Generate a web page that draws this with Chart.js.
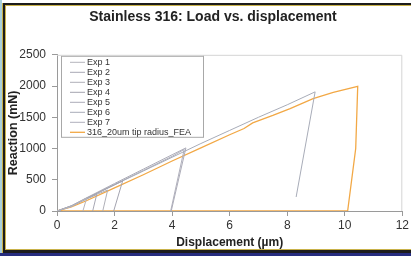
<!DOCTYPE html>
<html>
<head>
<meta charset="utf-8">
<script src="https://cdn.jsdelivr.net/npm/chart.js@4/dist/chart.umd.min.js"></script>
<style>
  html, body { margin: 0; padding: 0; background: #fff; }
  #wrap { position: relative; width: 411px; height: 256px; overflow: hidden; }
  #wrap canvas { position: absolute; left: 0; top: 0; }
  .fr { position: absolute; pointer-events: none; }
</style>
</head>
<body>
<div id="wrap">
  <canvas id="chart" width="411" height="256"></canvas>
  <!-- frame around the slide -->
  <div class="fr" style="left:0;top:3px;width:411px;height:2px;background:#1c1c1c"></div>
  <div class="fr" style="left:5px;top:5px;width:406px;height:1px;background:#c9b24a"></div>
  <div class="fr" style="left:0;top:0;width:2px;height:256px;background:#a9cfdc"></div>
  <div class="fr" style="left:2px;top:3px;width:1px;height:253px;background:#c9b24a"></div>
  <div class="fr" style="left:3px;top:3px;width:2px;height:250px;background:#1c1c1c"></div>
  <div class="fr" style="left:5px;top:5px;width:1px;height:245px;background:#c9b24a"></div>
  <div class="fr" style="left:5px;top:249px;width:406px;height:1px;background:#c9b24a"></div>
  <div class="fr" style="left:3px;top:250px;width:408px;height:3px;background:#1c1c1c"></div>
  <div class="fr" style="left:0;top:253px;width:411px;height:3px;background:#262c7e"></div>
</div>
<script>
// displacement (um) / reaction (mN)
const exp1X = [0, 0.5, 1.03, 0.9];
const exp1Y = [0, 70, 205, 0];
const exp2X = [0, 0.5, 1.0, 1.38, 1.24];
const exp2Y = [0, 75, 185, 265, 0];
const exp3X = [0, 0.5, 1.0, 1.4, 1.76, 1.59];
const exp3Y = [0, 75, 190, 270, 335, 0];
const exp4X = [0, 0.5, 1.0, 1.6, 2.28, 1.97];
const exp4Y = [0, 80, 195, 330, 480, 0];
const exp5X = [0, 0.5, 1, 2, 3, 4, 4.48, 3.97];
const exp5Y = [0, 85, 205, 440, 670, 900, 1010, 0];
const exp6X = [0, 0.5, 1, 2, 3, 4, 5, 6, 7, 8, 8.97, 8.31];
const exp6Y = [0, 80, 200, 420, 640, 860, 1080, 1290, 1500, 1700, 1907, 224];
const exp7X = [0, 0.5, 1, 2, 3, 4, 4.42, 3.95];
const exp7Y = [0, 80, 195, 425, 650, 875, 985, 0];
const feaX = [0, 0.5, 1, 2, 3, 4, 5, 6, 6.5, 6.8, 7.5, 8.1, 8.9, 9.6, 10.45, 10.38, 10.1, 0];
const feaY = [0, 65, 160, 370, 580, 800, 1010, 1220, 1320, 1410, 1530, 1640, 1800, 1900, 1995, 1000, 0, 0];

const xTicks = [0, 2, 4, 6, 8, 10, 12];
const yTicks = [0, 500, 1000, 1500, 2000, 2500];

const font = "'Liberation Sans', Arial, sans-serif";

const pts = (xs, ys) => xs.map((x, i) => ({ x, y: ys[i] }));

const grey = (label, xs, ys, color) => ({
    label,
    data: pts(xs, ys),
    borderColor: color,
    borderWidth: 1,
    pointRadius: 0,
    tension: 0,
    showLine: true,
});

// light frame on top/right of the plot area
const plotBox = {
    id: "plotBox",
    afterLayout(chart) {
        // the original title is centred a bit right of the canvas middle
        if (chart.titleBlock) chart.titleBlock.left = 22;
    },
    beforeDatasetsDraw(chart) {
        const { ctx, chartArea: a } = chart;
        ctx.save();
        ctx.strokeStyle = "#d4d4d4";
        ctx.lineWidth = 1;
        ctx.beginPath();
        ctx.moveTo(a.left, a.top + 0.5);
        ctx.lineTo(a.right - 0.5, a.top + 0.5);
        ctx.lineTo(a.right - 0.5, a.bottom);
        ctx.stroke();
        ctx.restore();
    },
};

// boxed legend inside the plot, top left
const boxLegend = {
    id: "boxLegend",
    afterDatasetsDraw(chart) {
        const { ctx, chartArea: a } = chart;
        const left = a.left + 4, top = a.top + 1;
        const w = 142, h = 81, row = 10;
        ctx.save();
        ctx.fillStyle = "#fff";
        ctx.fillRect(left, top, w, h);
        ctx.strokeStyle = "#a8a8a8";
        ctx.lineWidth = 1;
        ctx.strokeRect(left + 0.5, top + 0.5, w, h);
        ctx.font = "9px " + font;
        ctx.textBaseline = "middle";
        chart.data.datasets.forEach((ds, i) => {
            const y = top + 6 + i * row;
            ctx.strokeStyle = ds.borderColor;
            ctx.lineWidth = ds.borderWidth;
            ctx.beginPath();
            ctx.moveTo(left + 9, y + 0.5);
            ctx.lineTo(left + 24, y + 0.5);
            ctx.stroke();
            ctx.fillStyle = "#333";
            ctx.fillText(ds.label, left + 26, y + 0.5);
        });
        ctx.restore();
    },
};

new Chart(document.getElementById("chart"), {
    type: "scatter",
    data: {
        datasets: [
            grey("Exp 1", exp1X, exp1Y, "#b4b4bc"),
            grey("Exp 2", exp2X, exp2Y, "#a8a8b4"),
            grey("Exp 3", exp3X, exp3Y, "#b0b0b8"),
            grey("Exp 4", exp4X, exp4Y, "#a4a4b0"),
            grey("Exp 5", exp5X, exp5Y, "#acacb8"),
            grey("Exp 6", exp6X, exp6Y, "#a8acb8"),
            grey("Exp 7", exp7X, exp7Y, "#b0b0bc"),
            {
                label: "316_20um tip radius_FEA",
                data: pts(feaX, feaY),
                borderColor: "#f2a845",
                borderWidth: 1.3,
                pointRadius: 0,
                tension: 0,
                showLine: true,
            },
        ],
    },
    options: {
        responsive: false,
        animation: false,
        layout: { padding: { left: 6, right: 7, top: 0, bottom: 6 } },
        plugins: {
            legend: { display: false },
            tooltip: { enabled: false },
            title: {
                display: true,
                text: "Stainless 316: Load vs. displacement",
                font: { family: font, size: 14, weight: "bold" },
                color: "#222",
                padding: { top: 9, bottom: 29 },
            },
        },
        scales: {
            x: {
                type: "linear",
                min: 0,
                max: 12,
                afterBuildTicks: (s) => { s.ticks = xTicks.map((v) => ({ value: v })); },
                afterFit: (s) => { s.height = 39; },
                ticks: { font: { family: font, size: 12 }, color: "#333", padding: 2, callback: (v) => String(v) },
                grid: { display: true, drawOnChartArea: false, tickLength: 5, color: "#9a9a9a" },
                border: { display: true, color: "#9a9a9a" },
                title: {
                    display: true,
                    text: "Displacement (\u00b5m)",
                    font: { family: font, size: 12, weight: "bold" },
                    color: "#222",
                    padding: { top: 0, bottom: 0 },
                },
            },
            y: {
                min: 0,
                max: 2500,
                afterBuildTicks: (s) => { s.ticks = yTicks.map((v) => ({ value: v })); },
                afterFit: (s) => { s.width = 51; },
                ticks: { font: { family: font, size: 12 }, color: "#333", padding: 6, callback: (v) => String(v) },
                grid: { display: true, drawOnChartArea: false, tickLength: 5, color: "#9a9a9a" },
                border: { display: true, color: "#9a9a9a" },
                title: {
                    display: true,
                    text: "Reaction (mN)",
                    font: { family: font, size: 12.5, weight: "bold" },
                    color: "#222",
                    padding: 0,
                },
            },
        },
    },
    plugins: [plotBox, boxLegend],
});
</script>
</body>
</html>
